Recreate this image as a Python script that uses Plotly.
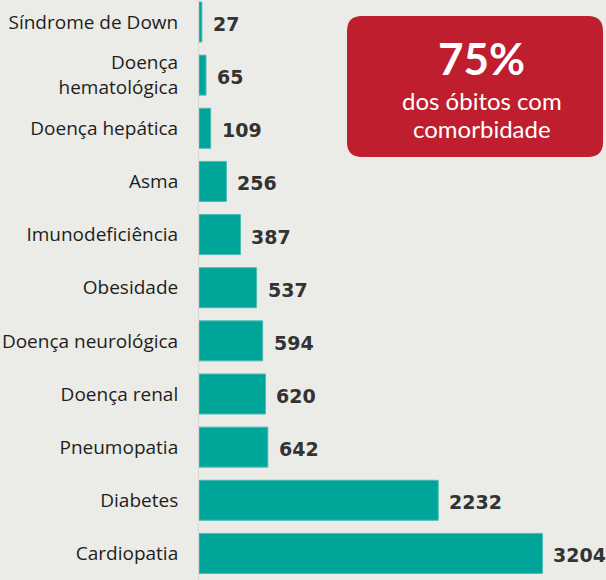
import plotly.graph_objects as go

categories = ["Cardiopatia", "Diabetes", "Pneumopatia", "Doença renal",
              "Doença neurológica", "Obesidade", "Imunodeficiência", "Asma",
              "Doença hepática", "Doença<br>hematológica", "Síndrome de Down"]
values = [3204, 2232, 642, 620, 594, 537, 387, 256, 109, 65, 27]
value_labels = [str(v) for v in values]
highlight_value = "75%"
highlight_lines = ["dos óbitos com", "comorbidade"]

BG = "#ebebe7"
TEAL = "#00a59a"
RED = "#be1e2d"

fig = go.Figure()
fig.add_trace(go.Bar(
    x=values, y=categories, orientation="h",
    marker=dict(color=TEAL, line=dict(color="#4fbcb3", width=1)),
    hoverinfo="x+y",
))

for v, c, t in zip(values, categories, value_labels):
    fig.add_annotation(x=v, y=c, text=t, xref="x", yref="y",
                       showarrow=False, xanchor="left", yanchor="middle",
                       xshift=9, yshift=-2,
                       font=dict(family="DejaVu Sans", size=19, color="#333333", weight="bold"))

# rounded red box (paper coords)
x0, x1 = (347 - 199) / 407, (603 - 199) / 407
y1, y0 = 1 - 16 / 580, 1 - 157 / 580
rx, ry = 15 / 407, 15 / 580
path = (f"M {x0+rx},{y1} L {x1-rx},{y1} Q {x1},{y1} {x1},{y1-ry} "
        f"L {x1},{y0+ry} Q {x1},{y0} {x1-rx},{y0} L {x0+rx},{y0} "
        f"Q {x0},{y0} {x0},{y0+ry} L {x0},{y1-ry} Q {x0},{y1} {x0+rx},{y1} Z")
fig.add_shape(type="path", path=path, xref="paper", yref="paper",
              fillcolor=RED, line=dict(width=0), layer="above")

cx = (481.5 - 199) / 407
fig.add_annotation(x=cx, y=1 - 57.5 / 580, xref="paper", yref="paper",
                   text=highlight_value, showarrow=False,
                   xanchor="center", yanchor="middle",
                   font=dict(family="Lato", size=44, color="white", weight="bold"))
for line_text, ypix in zip(highlight_lines, [101, 129]):
    fig.add_annotation(x=cx, y=1 - ypix / 580, xref="paper", yref="paper",
                       text=line_text, showarrow=False,
                       xanchor="center", yanchor="middle",
                       font=dict(family="Lato", size=24, color="white"))

fig.update_layout(
    width=606, height=580,
    margin=dict(l=199, r=0, t=0, b=0),
    paper_bgcolor=BG, plot_bgcolor=BG,
    bargap=0.247,
    showlegend=False,
    font=dict(family="Open Sans", color="#1e1e1e"),
    xaxis=dict(range=[0, 3797], visible=False, showgrid=False, zeroline=False),
    yaxis=dict(type="category", categoryorder="array", categoryarray=categories,
               range=[-0.5, 10.414], showgrid=False, zeroline=False,
               showline=True, linecolor="#d9d9d5", linewidth=1,
               ticks="", ticklabelstandoff=16,
               tickfont=dict(family="Open Sans", size=19, color="#1e1e1e")),
)

fig.write_html("out.html", config={"displayModeBar": False},
               post_script="document.body.style.margin='0';")
